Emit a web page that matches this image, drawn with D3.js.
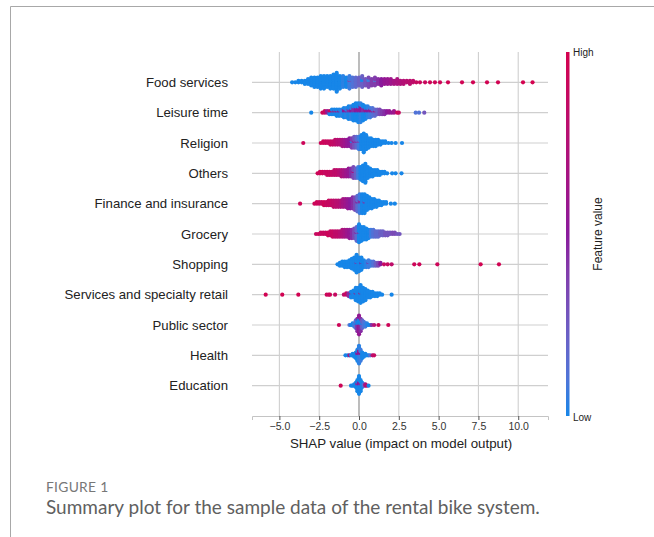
<!DOCTYPE html>
<html>
<head>
<meta charset="utf-8">
<script src="https://cdn.jsdelivr.net/npm/d3@7"></script>
<style>
  body { margin: 0; background: #fff; }
  svg text { font-family: "Liberation Sans", Arial, sans-serif; }
</style>
</head>
<body>
<svg width="654" height="537"></svg>

<script>
// feature names, top to bottom
var features = ["Food services", "Leisure time", "Religion", "Others", "Finance and insurance",
  "Grocery", "Shopping", "Services and specialty retail", "Public sector", "Health", "Education"];

var xTicks = [-5, -2.5, 0, 2.5, 5, 7.5, 10];

// each entry: [SHAP value, number of dots at that value, feature value 0(low)..1(high)]
var foodServices = [
  [-4.2,1,.05],[-4.0,1,.05],[-3.8,2,.05],[-3.6,2,.05],[-3.4,3,.05],[-3.2,4,.05],[-3.0,6,.05],
  [-2.8,7,.05],[-2.6,7,.08],[-2.4,9,.05],[-2.2,9,.08],[-2.0,8,.05],[-1.8,9,.1],[-1.6,10,.08],
  [-1.4,13,.1],[-1.2,9,.1],[-1.0,8,.12],[-0.8,7,.1],[-0.6,8,.15],[-0.6,1,.4],[-0.4,7,.2],
  [-0.2,7,.25],[0,6,.3],[0.2,6,.3],[0.2,2,.1],[0.4,5,.35],[0.6,5,.4],[0.6,2,.15],[0.8,5,.45],
  [1.0,5,.45],[1.0,1,.2],[1.2,4,.5],[1.4,5,.55],[1.6,4,.6],[1.8,4,.62],[2.0,4,.65],[2.2,3,.7],
  [2.4,4,.72],[2.6,3,.75],[2.8,3,.78],[3.0,2,.8],[3.2,3,.82],[3.4,2,.85],[3.6,1,.9],
  [3.83,1,.92],[4.15,1,.92],[4.46,1,.95],[4.77,1,.95],[5.09,1,.95],[5.59,1,.97],[6.47,1,.97],
  [7.16,1,.98],[8.04,1,.98],[8.73,1,.98],[10.3,1,1],[10.9,1,1]
];
var leisureTime = [
  [-3.0,1,.1],[-2.3,1,.95],[-2.15,2,.9],[-2.0,2,.6],[-1.85,2,.1],[-1.85,1,.9],[-1.7,3,.1],
  [-1.7,1,.8],[-1.55,3,.1],[-1.55,1,.75],[-1.4,4,.1],[-1.4,1,.7],[-1.25,4,.1],[-1.25,1,.6],
  [-1.1,5,.12],[-0.95,5,.1],[-0.95,2,.55],[-0.8,6,.12],[-0.8,1,.55],[-0.65,7,.1],[-0.65,2,.5],
  [-0.5,7,.12],[-0.5,2,.55],[-0.35,8,.1],[-0.35,3,.5],[-0.2,9,.1],[-0.2,3,.55],[-0.05,10,.1],
  [-0.05,3,.6],[0.1,9,.12],[0.1,4,.55],[0.25,8,.1],[0.25,3,.5],[0.4,7,.1],[0.4,2,.6],
  [0.55,6,.12],[0.55,2,.55],[0.7,5,.15],[0.7,2,.6],[0.85,5,.2],[0.85,1,.65],[1.0,4,.25],
  [1.0,1,.7],[1.15,4,.3],[1.3,4,.4],[1.45,3,.45],[1.6,3,.5],[1.75,2,.55],[1.9,2,.6],
  [2.05,1,.6],[2.2,2,.65],[2.4,1,.95],[2.5,1,.9],[3.56,1,.2],[3.77,1,.2],[4.1,1,.35]
];
var religion = [
  [-3.5,1,.95],[-2.4,1,.95],[-2.25,2,.95],[-2.1,2,.92],[-1.95,2,.9],[-1.8,3,.9],[-1.65,3,.88],
  [-1.5,4,.85],[-1.35,4,.8],[-1.2,4,.78],[-1.05,5,.7],[-0.9,5,.65],[-0.75,5,.6],[-0.6,6,.55],
  [-0.45,6,.45],[-0.45,1,.1],[-0.3,7,.35],[-0.3,1,.6],[-0.15,7,.25],[-0.15,1,.5],[0,8,.15],
  [0,1,.45],[0.15,10,.1],[0.3,13,.08],[0.45,10,.08],[0.6,7,.08],[0.75,6,.05],[0.9,5,.08],
  [1.05,5,.05],[1.2,4,.05],[1.35,3,.05],[1.5,2,.05],[1.65,2,.05],[1.85,1,.05],[2.05,1,.05],
  [2.3,1,.05],[2.7,1,.05]
];
var others = [
  [-2.6,1,.95],[-2.45,2,.95],[-2.3,2,.95],[-2.15,2,.9],[-2.0,3,.92],[-1.85,3,.9],[-1.7,3,.88],
  [-1.55,4,.85],[-1.4,4,.85],[-1.25,4,.8],[-1.1,5,.75],[-0.95,5,.7],[-0.8,5,.65],[-0.65,6,.6],
  [-0.5,6,.5],[-0.35,7,.4],[-0.35,1,.7],[-0.2,7,.3],[-0.05,8,.15],[0.1,9,.1],[0.25,11,.08],
  [0.4,13,.05],[0.55,8,.08],[0.7,6,.08],[0.85,5,.05],[1.0,4,.08],[1.15,4,.05],[1.3,3,.05],
  [1.45,2,.05],[1.6,2,.05],[1.77,1,.05],[2.08,1,.05],[2.3,1,.05],[2.67,1,.05]
];
var financeInsurance = [
  [-3.7,1,.95],[-2.8,1,.95],[-2.65,2,.95],[-2.5,2,.92],[-2.35,2,.9],[-2.2,3,.95],[-2.05,3,.9],
  [-1.9,4,.9],[-1.75,4,.88],[-1.6,5,.85],[-1.45,5,.82],[-1.3,5,.8],[-1.15,5,.75],[-1.0,6,.7],
  [-0.85,6,.65],[-0.7,7,.6],[-0.55,7,.55],[-0.4,8,.5],[-0.25,9,.4],[-0.1,10,.25],[-0.1,1,.6],
  [0.05,11,.15],[0.05,2,.5],[0.2,13,.1],[0.35,12,.08],[0.35,1,.5],[0.5,10,.08],[0.65,8,.08],
  [0.8,7,.05],[0.95,6,.08],[1.1,5,.05],[1.25,4,.05],[1.4,3,.05],[1.55,2,.05],[1.7,2,.05],
  [2.0,1,.05],[2.25,1,.05]
];
var grocery = [
  [-2.7,1,.9],[-2.55,1,.95],[-2.4,2,.9],[-2.25,2,.92],[-2.1,2,.9],[-1.95,3,.95],[-1.8,4,.9],
  [-1.65,5,.9],[-1.5,5,.85],[-1.35,5,.85],[-1.2,5,.8],[-1.05,6,.75],[-0.9,6,.7],[-0.75,6,.65],
  [-0.6,7,.6],[-0.45,7,.5],[-0.3,8,.4],[-0.15,10,.25],[-0.15,1,.6],[0,13,.1],[0,1,.5],
  [0.15,11,.08],[0.3,10,.1],[0.45,9,.08],[0.6,7,.1],[0.75,6,.15],[0.9,6,.2],[1.05,5,.25],
  [1.2,5,.25],[1.35,4,.3],[1.5,4,.3],[1.65,3,.35],[1.8,3,.35],[1.95,2,.35],[2.1,2,.4],
  [2.25,2,.4],[2.4,1,.35],[2.55,1,.35]
];
var shopping = [
  [-1.35,1,.08],[-1.2,3,.05],[-1.05,4,.08],[-0.9,5,.05],[-0.75,5,.08],[-0.6,6,.1],[-0.45,8,.05],
  [-0.3,10,.08],[-0.15,13,.05],[-0.15,1,.5],[0,11,.08],[0.15,9,.1],[0.15,1,.55],[0.3,6,.1],
  [0.45,5,.12],[0.6,5,.15],[0.6,1,.5],[0.75,4,.15],[0.9,4,.2],[1.05,3,.3],[1.2,3,.4],[1.35,2,.55],
  [1.57,1,.9],[1.8,1,.9],[2.05,1,.85],[3.47,1,.95],[3.79,1,.95],[4.92,1,.95],[7.64,1,.98],
  [8.79,1,.98]
];
var servicesRetail = [
  [-5.86,1,.98],[-4.82,1,.98],[-3.81,1,.98],[-2.03,1,.95],[-1.9,1,.9],[-1.82,1,.95],[-1.5,1,.9],
  [-0.95,1,.85],[-0.8,2,.9],[-0.65,3,.5],[-0.5,4,.1],[-0.5,1,.8],[-0.35,6,.1],[-0.2,9,.08],
  [-0.2,1,.7],[-0.05,11,.08],[0.1,13,.08],[0.1,1,.8],[0.25,11,.1],[0.4,9,.08],[0.55,6,.08],
  [0.7,5,.08],[0.85,4,.05],[1.0,3,.08],[1.15,3,.05],[1.3,2,.05],[1.45,1,.05],[2.05,1,.05]
];
var publicSector = [
  [-1.26,1,.95],[-0.6,1,.2],[-0.5,1,.1],[-0.4,2,.1],[-0.3,3,.15],[-0.2,5,.25],[-0.2,1,.08],
  [-0.1,6,.5],[-0.1,3,.08],[0,9,.6],[0,4,.1],[0.1,6,.5],[0.1,3,.08],[0.2,5,.3],[0.2,1,.08],
  [0.3,4,.2],[0.4,3,.15],[0.5,2,.12],[0.6,1,.1],[0.7,1,.1],[0.8,1,.5],[0.95,1,.8],[1.22,1,.95],
  [1.84,1,.95]
];
var health = [
  [-0.85,1,.1],[-0.7,1,.05],[-0.6,1,.7],[-0.5,1,.08],[-0.4,2,.1],[-0.3,3,.08],[-0.2,5,.1],
  [-0.1,7,.1],[-0.1,2,.55],[0,10,.12],[0,4,.6],[0.1,7,.15],[0.1,2,.55],[0.2,5,.1],[0.3,3,.08],
  [0.4,2,.1],[0.5,1,.08],[0.6,1,.1],[0.7,1,.2],[0.85,1,.8],[0.95,1,.9]
];
var education = [
  [-1.15,1,.95],[-0.5,1,.1],[-0.4,1,.08],[-0.3,2,.05],[-0.2,4,.08],[-0.1,7,.08],[-0.1,2,.5],
  [0,11,.1],[0,3,.55],[0.1,7,.08],[0.1,2,.5],[0.2,4,.1],[0.3,2,.2],[0.4,2,.7],[0.5,1,.9],[0.6,1,.1]
];

var rows = [foodServices, leisureTime, religion, others, financeInsurance, grocery,
  shopping, servicesRetail, publicSector, health, education];

var svg = d3.select("svg");

// frame around the figure
svg.append("path")
  .attr("d", "M10.5,537 V6.5 H654")
  .attr("fill", "none")
  .attr("stroke", "#a8a8a8");

var x = d3.scaleLinear().domain([-6.72, 11.87]).range([252, 548]);
var y = d3.scalePoint().domain(features).range([52, 416]).padding(1);

var color = d3.scaleLinear()
  .domain([0.1, 0.55, 1])
  .range(["#1786e8", "#8a1a9c", "#d4024f"])
  .interpolate(d3.interpolateLab)
  .clamp(true);

// grid
svg.selectAll(".vgrid")
  .data(xTicks)
  .enter().append("line")
    .attr("x1", function(d) { return x(d); })
    .attr("x2", function(d) { return x(d); })
    .attr("y1", 52).attr("y2", 416)
    .attr("stroke", function(d) { return d === 0 ? "#999" : "#cfcfcf"; })
    .attr("stroke-width", function(d) { return d === 0 ? 1.3 : 1.1; });

svg.selectAll(".hgrid")
  .data(features)
  .enter().append("line")
    .attr("x1", 252).attr("x2", 548)
    .attr("y1", function(d) { return y(d); })
    .attr("y2", function(d) { return y(d); })
    .attr("stroke", "#cfcfcf")
    .attr("stroke-width", 1.1);

// x axis
var xAxis = svg.append("g")
  .attr("transform", "translate(0,416)")
  .call(d3.axisBottom(x).tickValues(xTicks).tickFormat(d3.format(".1f")).tickSize(4).tickPadding(3));
xAxis.select(".domain").attr("stroke", "#c4c4c4");
xAxis.selectAll(".tick line").attr("stroke", "#555");
xAxis.selectAll(".tick text").style("font-size", "10.5px").attr("fill", "#333");

svg.append("text")
  .attr("x", 401).attr("y", 448)
  .attr("text-anchor", "middle")
  .style("font-size", "13.3px")
  .attr("fill", "#222")
  .text("SHAP value (impact on model output)");

// feature labels
svg.selectAll(".flabel")
  .data(features)
  .enter().append("text")
    .attr("x", 228)
    .attr("y", function(d) { return y(d); })
    .attr("dy", "0.36em")
    .attr("text-anchor", "end")
    .style("font-size", "13.2px")
    .attr("fill", "#222")
    .text(function(d) { return d; });

// beeswarm: dots sharing a value stack alternately above and below the row line
var half = y.step() * 0.36;
rows.forEach(function(bins, i) {
  var cols = d3.group(bins, function(d) { return d[0]; });
  var pts = [], maxLayer = 0;
  cols.forEach(function(entries, v) {
    var left = entries.map(function(e) { return { n: e[1], fv: e[2] }; });
    var list = [];
    while (left.some(function(q) { return q.n > 0; })) {
      left.forEach(function(q) { if (q.n > 0) { list.push(q.fv); q.n--; } });
    }
    list.forEach(function(fv, k) {
      var layer = Math.ceil(k / 2) * (k % 2 ? 1 : -1);
      maxLayer = Math.max(maxLayer, Math.abs(layer));
      pts.push({ v: v, fv: fv, layer: layer });
    });
  });
  var unit = half / (maxLayer + 1);
  svg.append("g").selectAll("circle")
    .data(pts)
    .enter().append("circle")
      .attr("cx", function(d) { return x(d.v); })
      .attr("cy", function(d) { return y(features[i]) - d.layer * unit; })
      .attr("r", 2.1)
      .attr("fill", function(d) { return color(d.fv); });
});

// colour bar
var defs = svg.append("defs");
var grad = defs.append("linearGradient")
  .attr("id", "cbar").attr("x1", 0).attr("y1", 1).attr("x2", 0).attr("y2", 0);
grad.selectAll("stop")
  .data(d3.range(0, 1.01, 0.1))
  .enter().append("stop")
    .attr("offset", function(d) { return d; })
    .attr("stop-color", function(d) { return color(0.1 + d * 0.9); });

svg.append("rect")
  .attr("x", 566).attr("y", 52)
  .attr("width", 3.5).attr("height", 364)
  .attr("fill", "url(#cbar)");

svg.append("text").attr("x", 573).attr("y", 56)
  .style("font-size", "10px").attr("fill", "#222").text("High");
svg.append("text").attr("x", 573).attr("y", 421)
  .style("font-size", "10px").attr("fill", "#222").text("Low");
svg.append("text")
  .attr("transform", "translate(602,234) rotate(-90)")
  .attr("text-anchor", "middle")
  .style("font-size", "12px")
  .attr("fill", "#222")
  .text("Feature value");

// caption
svg.append("text")
  .attr("x", 46).attr("y", 492)
  .style("font-family", "Lato, 'Open Sans', sans-serif")
  .style("font-size", "13.8px")
  .style("letter-spacing", "0.3px")
  .attr("fill", "#777")
  .text("FIGURE 1");

svg.append("text")
  .attr("x", 46).attr("y", 514)
  .style("font-family", "Lato, 'Open Sans', sans-serif")
  .style("font-size", "19px")
  .attr("fill", "#606060")
  .text("Summary plot for the sample data of the rental bike system.");
</script>
</body>
</html>
